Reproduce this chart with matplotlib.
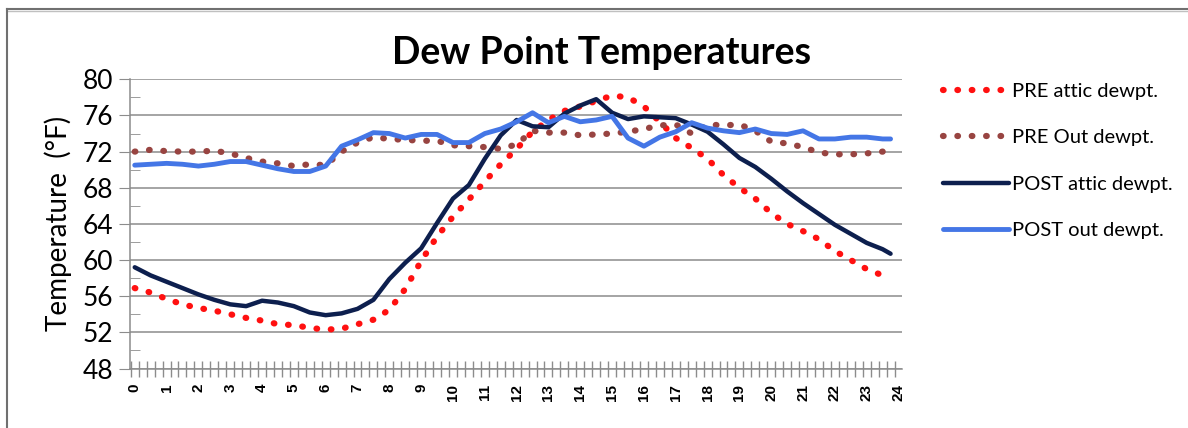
import matplotlib
matplotlib.use('Agg')
import matplotlib.pyplot as plt
from matplotlib.lines import Line2D
from matplotlib.ticker import MultipleLocator, FixedLocator

# Hours of the day (half-hour readings, last one at 23:45)
hours = [i * 0.5 for i in range(48)] + [23.75]

pre_attic = [56.9, 56.4, 55.7, 55.1, 54.7, 54.4, 54.0, 53.6, 53.3, 52.9,
             52.8, 52.5, 52.3, 52.4, 52.9, 53.4, 54.5, 56.8, 59.9, 62.6,
             64.8, 66.7, 68.7, 70.6, 72.3, 74.2, 75.5, 76.5, 77.0, 77.6,
             78.2, 78.0, 77.0, 75.3, 73.5, 72.4, 71.2, 69.4, 68.0, 66.8,
             65.2, 64.0, 63.2, 62.3, 61.0, 60.0, 59.0, 58.3, 57.9]
pre_out = [72.0, 72.2, 72.05, 72.0, 72.0, 72.1, 71.8, 71.3, 70.9, 70.7,
           70.4, 70.6, 70.5, 72.0, 73.0, 73.6, 73.4, 73.3, 73.2, 73.2,
           72.7, 72.6, 72.5, 72.3, 72.8, 74.3, 74.1, 74.1, 73.8, 73.9,
           74.0, 74.2, 74.5, 74.9, 75.0, 74.0, 75.0, 74.9, 75.0, 74.3,
           73.1, 72.9, 72.5, 71.9, 71.7, 71.7, 71.8, 72.0, 71.8]
post_attic = [59.2, 58.3, 57.6, 56.9, 56.2, 55.6, 55.1, 54.9, 55.5, 55.3,
              54.9, 54.2, 53.9, 54.1, 54.6, 55.6, 57.9, 59.7, 61.3, 64.1,
              66.8, 68.3, 71.2, 73.8, 75.5, 74.8, 74.7, 76.2, 77.1, 77.8,
              76.3, 75.6, 75.9, 75.8, 75.7, 75.0, 74.2, 72.8, 71.3, 70.3,
              69.0, 67.6, 66.3, 65.1, 63.9, 62.9, 61.9, 61.2, 60.7]
post_out = [70.5, 70.6, 70.7, 70.6, 70.4, 70.6, 70.9, 70.9, 70.5, 70.1,
            69.8, 69.8, 70.4, 72.6, 73.3, 74.1, 74.0, 73.5, 73.9, 73.9,
            73.0, 73.0, 74.0, 74.5, 75.3, 76.3, 75.2, 75.9, 75.3, 75.5,
            75.9, 73.5, 72.6, 73.6, 74.2, 75.2, 74.6, 74.3, 74.1, 74.5,
            74.0, 73.9, 74.3, 73.4, 73.4, 73.6, 73.6, 73.4, 73.4]

labels = ['PRE attic dewpt.', 'PRE Out dewpt.', 'POST attic dewpt.', 'POST out dewpt.']
x_labels = [str(h) for h in range(25)]

plt.rcParams['font.family'] = ['Lato', 'DejaVu Sans']

fig = plt.figure(figsize=(11.88, 4.28), dpi=100)
ax = fig.add_axes([0.1094, 0.139, 0.6496, 0.6757])

dots = dict(linestyle=(0, (0.1, 2.2)), dash_capstyle='round', lw=4.5)
ax.plot(hours, pre_attic, color='#FF1010', label=labels[0], **dots)
ax.plot(hours, pre_out, color='#984441', label=labels[1], **dots)
ax.plot(hours, post_attic, color='#0D1F4E', lw=3.2, label=labels[2], solid_capstyle='round')
ax.plot(hours, post_out, color='#4476E6', lw=3.5, label=labels[3], solid_capstyle='round')

ax.set_ylim(48, 80)
ax.set_xlim(-0.15, 24.1)
ax.yaxis.set_major_locator(MultipleLocator(4))
ax.yaxis.set_minor_locator(MultipleLocator(2))
ax.grid(axis='y', which='major', color='#8C8C8C', lw=1.1)
ax.set_axisbelow(True)

ax.set_xticks(range(25))
ax.set_xticklabels(x_labels, rotation=90, fontsize=11, fontweight='bold', family='Liberation Sans')
ax.xaxis.set_minor_locator(FixedLocator([-0.125 + 0.25 * k for k in range(98)]))
ax.tick_params(axis='x', which='major', length=0, pad=11)
ax.tick_params(axis='x', which='minor', direction='inout', length=11, color='#8C8C8C', width=1)
ax.tick_params(axis='y', which='major', direction='out', length=8, color='#8C8C8C', labelsize=19, pad=4)
ax.tick_params(axis='y', which='minor', direction='in', length=7, color='#8C8C8C')

for side in ['top', 'right']:
    ax.spines[side].set_visible(False)
for side in ['left', 'bottom']:
    ax.spines[side].set_color('#8C8C8C')
    ax.spines[side].set_linewidth(1.1)

ax.set_ylabel('Temperature  (°F)', fontsize=20, labelpad=8)
fig.text(0.506, 0.876, 'Dew Point Temperatures', ha='center', va='center',
         fontsize=27, fontweight='bold')

ax.legend(loc='upper left', bbox_to_anchor=(0.787, 0.825), bbox_transform=fig.transFigure,
          frameon=False, fontsize=14.5, handlelength=3.3, handletextpad=0.15,
          labelspacing=1.45, borderaxespad=0)

# outer chart border
fig.add_artist(Line2D([0.006, 1.0], [0.979, 0.979], transform=fig.transFigure, color='#707070', lw=1.5))
fig.add_artist(Line2D([0.006, 1.0], [0.974, 0.974], transform=fig.transFigure, color='#C0C0C0', lw=1))
fig.add_artist(Line2D([0.006, 0.006], [0.0, 0.979], transform=fig.transFigure, color='#707070', lw=1.5))

fig.savefig('out.png', dpi=100)
